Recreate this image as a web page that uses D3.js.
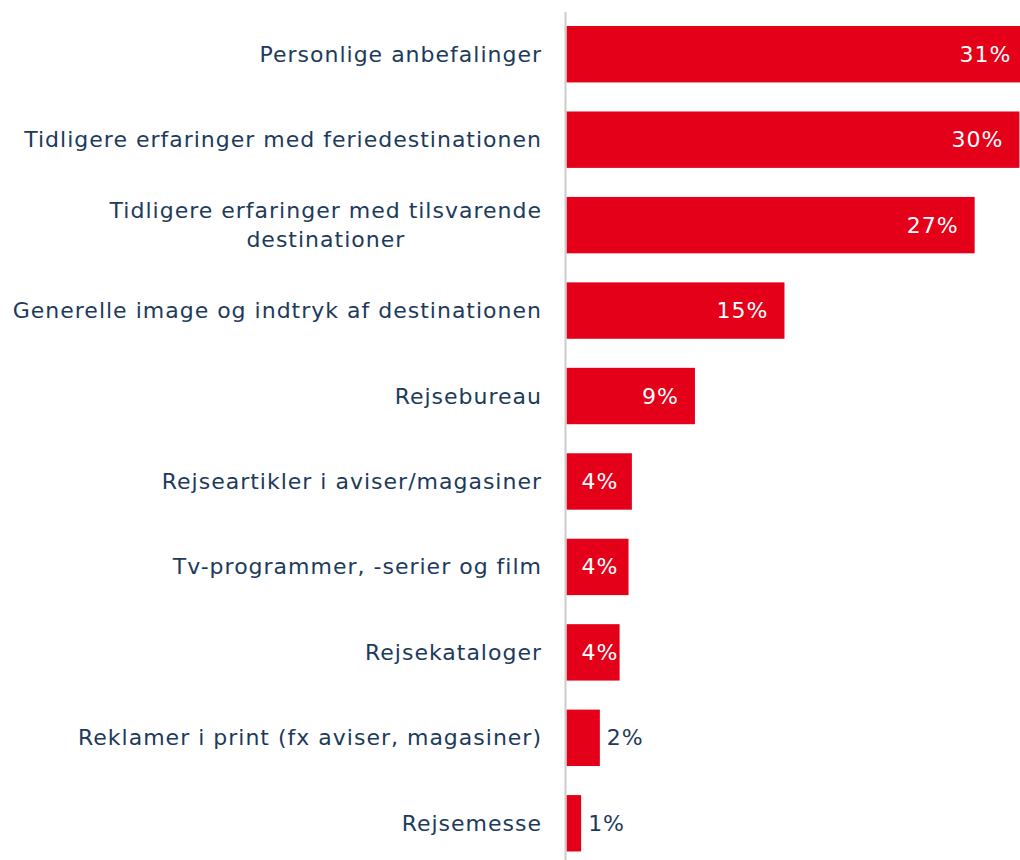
<!DOCTYPE html>
<head>
  <meta charset="utf-8">
  <script src="https://d3js.org/d3.v7.min.js"></script>
  <style>
    body { margin: 0; background: #fff; }
    svg { display: block; }
    .cat, .val {
      font-family: "DejaVu Sans", sans-serif;
      font-size: 22px;
      letter-spacing: 1px;
      fill: #1d3a5c;
    }
    .val.inside { fill: #fff; }
    .bar { fill: #e50019; }
    .axis-line { stroke: #cccccc; stroke-width: 2px; }
  </style>
</head>

<body>
  <script>
    var categories = [
      "Personlige anbefalinger",
      "Tidligere erfaringer med feriedestinationen",
      "Tidligere erfaringer med tilsvarende destinationer",
      "Generelle image og indtryk af destinationen",
      "Rejsebureau",
      "Rejseartikler i aviser/magasiner",
      "Tv-programmer, -serier og film",
      "Rejsekataloger",
      "Reklamer i print (fx aviser, magasiner)",
      "Rejsemesse"
    ];

    // bar lengths (percent)
    var values = [31.5, 30.96, 27.9, 14.9, 8.78, 4.47, 4.24, 3.63, 2.28, 1.0];

    // printed labels
    var labels = ["31%", "30%", "27%", "15%", "9%", "4%", "4%", "4%", "2%", "1%"];

    var width = 1020, height = 860;

    var svg = d3.select("body").append("svg")
      .attr("width", width)
      .attr("height", height);

    var x0 = 566.5;

    var x = d3.scaleLinear()
      .domain([0, 31])
      .range([x0, 1020]);

    var y = d3.scaleBand()
      .domain(categories)
      .range([11.5, 866])
      .paddingInner(0.34)
      .paddingOuter(0.17);

    var data = categories.map(function(c, i) {
      return { cat: c, value: values[i], label: labels[i] };
    });

    svg.append("g")
      .selectAll("rect")
      .data(data)
      .enter().append("rect")
      .attr("class", "bar")
      .attr("x", x(0))
      .attr("y", function(d) { return y(d.cat); })
      .attr("width", function(d) { return x(d.value) - x(0); })
      .attr("height", y.bandwidth());

    svg.append("line")
      .attr("class", "axis-line")
      .attr("x1", x0 - 1).attr("x2", x0 - 1)
      .attr("y1", 12).attr("y2", height);

    // category labels, wrapped when too long (wrapped block is centred)
    var maxW = 548, right = 542;
    svg.append("g")
      .selectAll("text")
      .data(data)
      .enter().append("text")
      .attr("class", "cat")
      .attr("text-anchor", "end")
      .attr("x", right)
      .attr("y", function(d) { return y(d.cat) + y.bandwidth() / 2; })
      .each(function(d) {
        var t = d3.select(this);
        var words = d.cat.split(" "), lines = [], line = [];
        t.text(d.cat);
        if (this.getComputedTextLength() <= maxW) {
          lines = [d.cat];
        } else {
          words.forEach(function(w) {
            line.push(w);
            t.text(line.join(" "));
            if (this.getComputedTextLength() > maxW && line.length > 1) {
              line.pop();
              lines.push(line.join(" "));
              line = [w];
            }
          }, this);
          lines.push(line.join(" "));
        }
        var blockW = 0;
        lines.forEach(function(l) {
          t.text(l);
          blockW = Math.max(blockW, this.getComputedTextLength());
        }, this);
        t.text(null);
        var tx = right;
        if (lines.length > 1) {
          t.attr("text-anchor", "middle");
          tx = right - blockW / 2;
        }
        var lh = 29;
        lines.forEach(function(l, i) {
          t.append("tspan")
            .attr("x", tx)
            .attr("dy", i === 0 ? (-(lines.length - 1) * lh / 2) + "px" : lh + "px")
            .attr("dominant-baseline", "central")
            .text(l);
        });
      });

    // value labels
    svg.append("g")
      .selectAll("text")
      .data(data)
      .enter().append("text")
      .attr("class", function(d) { return d.value >= 3 ? "val inside" : "val"; })
      .attr("dominant-baseline", "central")
      .attr("y", function(d) { return y(d.cat) + y.bandwidth() / 2; })
      .attr("text-anchor", function(d) { return d.value >= 6 ? "end" : "start"; })
      .attr("x", function(d) {
        if (d.value >= 6) return x(d.value) - 16;
        if (d.value >= 3) return x(0) + 15;
        return x(d.value) + 7;
      })
      .text(function(d) { return d.label; });
  </script>
</body>
